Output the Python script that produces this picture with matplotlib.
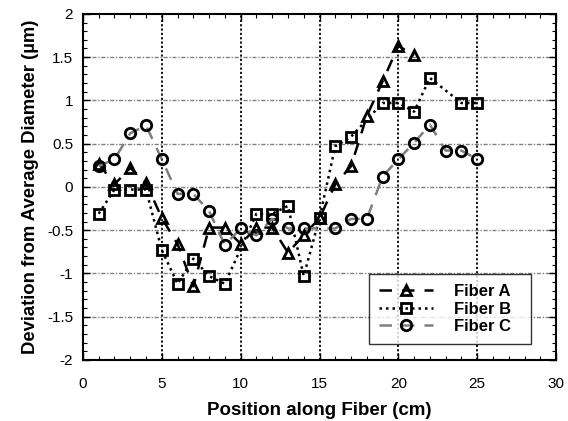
import numpy as np
import matplotlib.pyplot as plt
from matplotlib.ticker import MultipleLocator

plt.rcParams['font.family'] = ['Liberation Sans', 'DejaVu Sans']
plt.rcParams['axes.unicode_minus'] = False

# Fiber A (triangles)
xa = [1, 2, 3, 4, 5, 6, 7, 8, 9, 10, 11, 12, 13, 14, 15, 16, 17, 18, 19, 20, 21]
ya = [0.27, 0.03, 0.22, 0.05, -0.36, -0.66, -1.15, -0.47, -0.47, -0.66, -0.47,
      -0.47, -0.76, -0.56, -0.36, 0.03, 0.24, 0.82, 1.22, 1.63, 1.52]

# Fiber B (squares)
xb = [1, 2, 3, 4, 5, 6, 7, 8, 9, 11, 12, 13, 14, 15, 16, 17, 19, 20, 21, 22, 24, 25]
yb = [-0.31, -0.03, -0.03, -0.03, -0.73, -1.12, -0.83, -1.03, -1.12, -0.31, -0.31,
      -0.22, -1.03, -0.36, 0.47, 0.58, 0.97, 0.97, 0.87, 1.26, 0.97, 0.97]

# Fiber C (circles)
xc = [1, 2, 3, 4, 5, 6, 7, 8, 9, 10, 11, 12, 13, 14, 16, 17, 18, 19, 20, 21, 22, 23, 24, 25]
yc = [0.24, 0.32, 0.62, 0.71, 0.32, -0.08, -0.08, -0.28, -0.67, -0.48, -0.56, -0.37,
      -0.48, -0.48, -0.48, -0.37, -0.37, 0.12, 0.32, 0.51, 0.72, 0.42, 0.42, 0.32]

fig = plt.figure(figsize=(5.68, 4.21), dpi=100)
ax = fig.add_axes([0.146, 0.145, 0.833, 0.822])

ax.set_xlim(0, 30)
ax.set_ylim(-2, 2)
ax.xaxis.set_major_locator(MultipleLocator(5))
ax.xaxis.set_minor_locator(MultipleLocator(1))
ax.yaxis.set_major_locator(MultipleLocator(0.5))
ax.yaxis.set_minor_locator(MultipleLocator(0.1))
ax.set_yticks([-2, -1.5, -1, -0.5, 0, 0.5, 1, 1.5, 2])
ax.set_yticklabels(['-2', '-1.5', '-1', '-0.5', '0', '0.5', '1', '1.5', '2'])

# grid
for xv in [5, 10, 15, 20, 25]:
    ax.axvline(xv, color='black', linestyle=(0, (1.2, 1.2)), linewidth=1.3, zorder=1)
for yv in [-1.5, -1, -0.5, 0, 0.5, 1, 1.5]:
    ax.axhline(yv, color='#808080', linestyle=(0, (3, 1.2, 1, 1.2)), linewidth=1.0, zorder=1)

mk = dict(markersize=7.5, markeredgewidth=2.0, markerfacecolor='none', markeredgecolor='black')
ax.plot(xa, ya, color='black', linestyle=(0, (5, 4)), linewidth=1.8, marker='^', label='Fiber A', zorder=3, **mk)
ax.plot(xb, yb, color='black', linestyle=(0, (1, 1.6)), linewidth=1.8, marker='s', label='Fiber B', zorder=3, **mk)
ax.plot(xc, yc, color='#7f7f7f', linestyle=(0, (5, 4)), linewidth=1.8, marker='o', label='Fiber C', zorder=3, **mk)

ax.tick_params(which='both', direction='in', top=True, right=True, labelsize=11)
ax.tick_params(which='major', length=5, width=1)
ax.tick_params(which='minor', length=3, width=0.8)
ax.tick_params(axis='x', pad=12)
ax.tick_params(axis='y', pad=7)
for s in ax.spines.values():
    s.set_linewidth(1.5)

ax.set_xlabel('Position along Fiber (cm)', fontsize=13.5, fontweight='bold', labelpad=8)
ax.set_ylabel('Deviation from Average Diameter (\u00b5m)', fontsize=13.3, fontweight='bold', labelpad=6)

leg = ax.legend(loc='lower left', bbox_to_anchor=(0.605, 0.046, 0.342, 0.2), mode='expand',
                borderaxespad=0, prop={'weight': 'bold', 'size': 12}, frameon=True,
                fancybox=False, edgecolor='black', handlelength=3.2, borderpad=0.6,
                labelspacing=0.15, handletextpad=1.3)
leg.get_frame().set_linewidth(1.0)

fig.savefig('out.png', dpi=100)
